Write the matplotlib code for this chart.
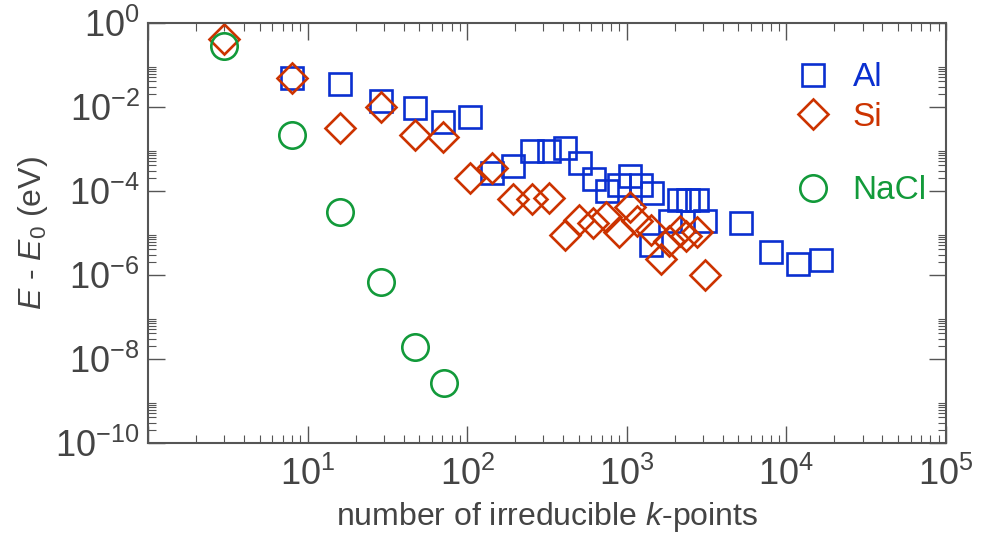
import numpy as np
import matplotlib
matplotlib.use("Agg")
import matplotlib.pyplot as plt
from matplotlib.ticker import FixedLocator, NullFormatter, FuncFormatter
from matplotlib.lines import Line2D

plt.rcParams['font.family'] = ['Liberation Sans', 'DejaVu Sans']
plt.rcParams['mathtext.fontset'] = 'custom'
plt.rcParams['mathtext.rm'] = 'Liberation Sans'
plt.rcParams['mathtext.it'] = 'Liberation Sans:italic'
plt.rcParams['axes.unicode_minus'] = False

# data
al_k = [8, 16, 29, 47, 71, 104, 144, 194, 253, 325, 412, 507, 620, 748,
        893, 1053, 1234, 1432, 1412, 1856, 2114, 2406, 2752, 3088,
        5220, 8040, 11800, 16600]
al_de = [4.75e-2, 3.4e-2, 1.39e-2, 9.2e-3, 4.4e-3, 5.6e-3, 2.68e-4, 3.87e-4,
         8.96e-4, 8.96e-4, 1.02e-3, 4.6e-4, 1.87e-4, 1.0e-4,
         1.37e-4, 2.24e-4, 1.37e-4, 8.7e-5, 5.1e-6, 1.95e-5, 5.85e-5, 6.0e-5,
         6.0e-5, 1.95e-5, 1.67e-5, 3.53e-6, 1.8e-6, 2.24e-6]

si_k = [3, 8, 16, 29, 47, 71, 104, 144, 194, 254, 326, 410, 502, 616, 745,
        892, 1053, 1153, 1426, 1647, 1843, 2143, 2361, 2760, 3088]
si_de = [0.42, 4.8e-2, 3.16e-3, 1.0e-2, 2.1e-3, 1.87e-3, 1.97e-4, 3.41e-4,
         6.24e-5, 6.24e-5, 6.8e-5, 8.6e-6, 2.06e-5, 1.67e-5, 2.36e-5,
         1.06e-5, 4.09e-5, 1.9e-5, 1.19e-5, 2.4e-6, 6.5e-6, 1.07e-5, 8.3e-6,
         1.06e-5, 1.01e-6]

nacl_k = [3, 8, 16, 29, 47, 72]
nacl_de = [0.283, 2.08e-3, 3.1e-5, 6.6e-7, 1.9e-8, 2.7e-9]

blue = '#0a2fd0'
red = '#cc3300'
green = '#129a3a'
axcol = '#555555'
txtcol = '#444444'

sq = dict(ls='none', marker='s', ms=16.5, mfc='none', mec=blue, mew=1.9)
dm = dict(ls='none', marker='D', ms=15.0, mfc='none', mec=red, mew=1.9)
ci = dict(ls='none', marker='o', ms=19.0, mfc='none', mec=green, mew=1.9)

fig = plt.figure(figsize=(9.82, 5.38), dpi=100)
ax = fig.add_axes([0.1507, 0.1771, 0.8126, 0.7807])

ax.plot(al_k, al_de, **sq)
ax.plot(si_k, si_de, **dm)
ax.plot(nacl_k, nacl_de, **ci)

ax.set_xscale('log')
ax.set_yscale('log')
ax.set_xlim(1, 1e5)
ax.set_ylim(1e-10, 1)

ax.xaxis.set_major_locator(FixedLocator([10.0 ** e for e in range(0, 6)]))
ax.xaxis.set_minor_locator(FixedLocator([k * 10.0 ** e for e in range(0, 5) for k in range(2, 10)]))
ax.xaxis.set_major_formatter(FuncFormatter(lambda v, p: '' if v < 5 else r'$\mathregular{10^{%d}}$' % round(np.log10(v))))
ax.xaxis.set_minor_formatter(NullFormatter())

ax.yaxis.set_major_locator(FixedLocator([10.0 ** e for e in range(-10, 1, 2)]))
ax.yaxis.set_minor_locator(FixedLocator([k * 10.0 ** e for e in range(-10, 0, 2) for k in range(2, 10)]))
ax.yaxis.set_major_formatter(FuncFormatter(lambda v, p: r'$\mathregular{10^{%d}}$' % round(np.log10(v))))
ax.yaxis.set_minor_formatter(NullFormatter())

for s in ax.spines.values():
    s.set_color(axcol)
    s.set_linewidth(1.5)
ax.tick_params(which='both', direction='in', top=True, right=True, color=axcol,
               labelcolor=txtcol, labelsize=26)
ax.tick_params(which='major', length=12, width=1.0)
ax.tick_params(which='minor', length=6, width=0.8)
ax.tick_params(axis='x', pad=10)
ax.tick_params(axis='y', pad=6)

ax.set_xlabel(r'number of irreducible $\mathit{k}$-points', fontsize=23, color=txtcol, labelpad=5)
ax.set_ylabel(r'$\mathit{E}$ - $\mathit{E}_0$ (eV)', fontsize=23, color=txtcol, labelpad=4)

leg1 = ax.legend([Line2D([], [], **sq), Line2D([], [], **dm)], ['Al', 'Si'],
                 loc='upper left', bbox_to_anchor=(0.791, 0.945),
                 frameon=False, fontsize=24, labelcolor=[blue, red], handlelength=1.0,
                 handletextpad=0.7, labelspacing=0.25, borderpad=0.0)
ax.add_artist(leg1)
ax.legend([Line2D([], [], **ci)], ['NaCl'], loc='upper left', bbox_to_anchor=(0.791, 0.676),
          frameon=False, fontsize=24, labelcolor=[green], handlelength=1.0,
          handletextpad=0.7, borderpad=0.0)

fig.savefig('out.png', dpi=100)
